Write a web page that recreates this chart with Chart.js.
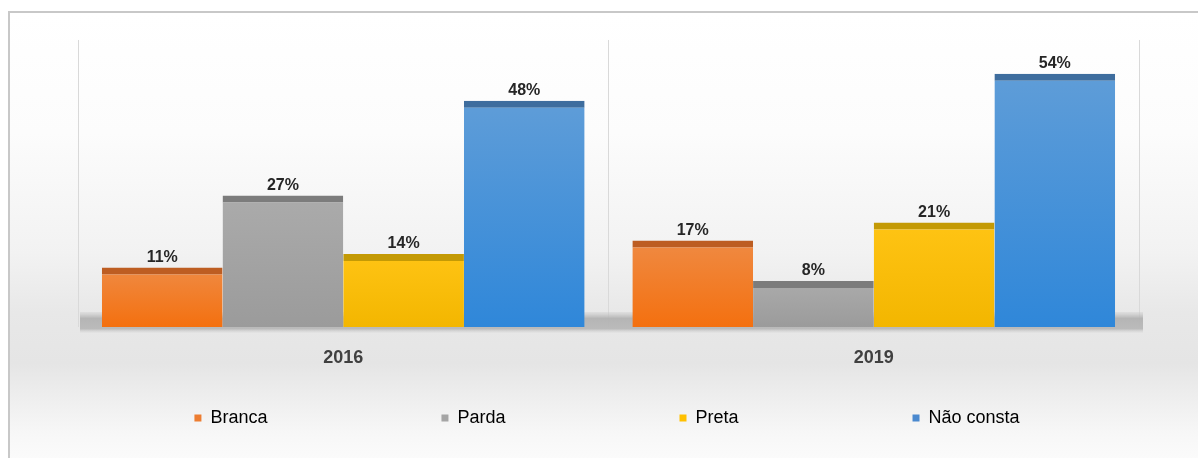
<!DOCTYPE html>
<html>
<head>
<meta charset="utf-8">
<script src="https://cdn.jsdelivr.net/npm/chart.js@4.4.1/dist/chart.umd.min.js"></script>
<style>
html, body { margin: 0; padding: 0; background: #fff; overflow: hidden; }
#frame {
  position: absolute; left: 8px; top: 11px; width: 1200px; height: 460px;
  border-left: 2px solid #c8c8c8; border-top: 2px solid #c8c8c8;
  background: linear-gradient(to bottom, #ffffff 0px, #fcfcfc 120px, #f2f2f2 240px, #e8e8e8 300px, #e5e5e5 350px, #eeeeee 385px, #f7f7f7 420px, #fbfbfb 447px);
}
#wrap { position: absolute; left: 0; top: 0; width: 1198px; height: 458px; }
</style>
</head>
<body>
<div id="frame"></div>
<div id="wrap"><canvas id="chart"></canvas></div>
<script>
const years = ['2016', '2019']
const branca = [11, 17]
const parda = [27, 8]
const preta = [14, 21]
const naoConsta = [48, 54]
const seriesNames = ['Branca', 'Parda', 'Preta', 'Não consta']

const Y_MIN = -2.2
const Y_MAX = 61.5
const FONT = '"Liberation Sans", Arial, sans-serif'

// fill that runs from the bar top down to the floor
function barFill(top, bottom) {
  return (c) => {
    const chart = c.chart
    if (!chart.chartArea || c.raw === undefined) return bottom
    const y0 = chart.scales.y.getPixelForValue(c.raw)
    const g = chart.ctx.createLinearGradient(0, y0, 0, chart.chartArea.bottom)
    g.addColorStop(0, top)
    g.addColorStop(1, bottom)
    return g
  }
}

function series(i, data, top, bottom, cap, key) {
  return {
    label: seriesNames[i],
    data: data,
    base: Y_MIN,
    backgroundColor: barFill(top, bottom),
    borderColor: cap,
    borderWidth: {top: 7, left: 0, right: 0, bottom: 0},
    borderSkipped: false,
    keyColor: key
  }
}

const floor = {
  id: 'floor',
  beforeDatasetsDraw(chart) {
    const {ctx, chartArea: a} = chart
    const top = a.bottom - 15, bottom = a.bottom + 6
    const g = ctx.createLinearGradient(0, top, 0, bottom)
    g.addColorStop(0, 'rgba(200,200,200,0.3)')
    g.addColorStop(0.3, 'rgba(178,178,178,0.95)')
    g.addColorStop(0.8, 'rgba(184,184,184,0.95)')
    g.addColorStop(1, 'rgba(225,225,225,0.4)')
    ctx.save()
    ctx.fillStyle = g
    ctx.fillRect(a.left + 2, top, a.right - a.left + 2, bottom - top)
    ctx.restore()
  }
}

const valueLabels = {
  id: 'valueLabels',
  afterDatasetsDraw(chart) {
    const ctx = chart.ctx
    ctx.save()
    ctx.font = 'bold 16px ' + FONT
    ctx.fillStyle = '#262626'
    ctx.textAlign = 'center'
    ctx.textBaseline = 'bottom'
    chart.data.datasets.forEach((ds, i) => {
      chart.getDatasetMeta(i).data.forEach((bar, j) => {
        ctx.fillText(ds.data[j] + '%', bar.x, bar.y - 2)
      })
    })
    ctx.restore()
  }
}

// the wide item spacing would also push the row down, so lift it back
const legendRow = {
  id: 'legendRow',
  afterLayout(chart) {
    const lg = chart.legend
    lg.top = chart.height - 49 - lg.options.labels.padding
  }
}

const ctx = document.getElementById('chart').getContext('2d')
const chart = new Chart(ctx, {
  type: 'bar',
  data: {
    labels: years,
    datasets: [
      series(0, branca, '#ef8a43', '#f4700f', '#bd5d22', '#ed7d31'),
      series(1, parda, '#ababab', '#9b9b9b', '#7c7c7c', '#a5a5a5'),
      series(2, preta, '#ffc414', '#f3b600', '#c49a05', '#ffc000'),
      series(3, naoConsta, '#5f9dd8', '#2f87d9', '#3e6d9e', '#4a89cf')
    ]
  },
  plugins: [floor, valueLabels, legendRow],
  options: {
    responsive: true,
    maintainAspectRatio: false,
    animation: false,
    events: [],
    layout: {padding: {left: 16, top: 40, right: 0, bottom: 0}},
    datasets: {
      bar: {categoryPercentage: 0.91, barPercentage: 1}
    },
    scales: {
      x: {
        grid: {color: '#d9d9d9', drawTicks: false},
        border: {display: false},
        ticks: {
          color: '#404040',
          font: {family: FONT, size: 18, weight: 'bold'},
          padding: 20
        },
        afterFit: (axis) => { axis.height = 71 }
      },
      y: {
        min: Y_MIN,
        max: Y_MAX,
        grid: {display: false},
        border: {display: false},
        ticks: {display: false},
        afterFit: (axis) => { axis.width = 62 }
      },
      yRight: {
        type: 'linear',
        position: 'right',
        display: true,
        grid: {display: false},
        border: {display: false},
        ticks: {display: false},
        afterFit: (axis) => { axis.width = 59 }
      }
    },
    plugins: {
      tooltip: {enabled: false},
      legend: {
        position: 'bottom',
        maxHeight: 60,
        labels: {
          color: '#595959',
          font: {family: FONT, size: 18},
          boxWidth: 7,
          boxHeight: 7,
          padding: 174,
          generateLabels: (chart) => chart.data.datasets.map((ds, i) => ({
            text: ds.label,
            fillStyle: ds.keyColor,
            strokeStyle: ds.keyColor,
            lineWidth: 0,
            hidden: false,
            datasetIndex: i
          }))
        }
      }
    }
  }
})
</script>
</body>
</html>
